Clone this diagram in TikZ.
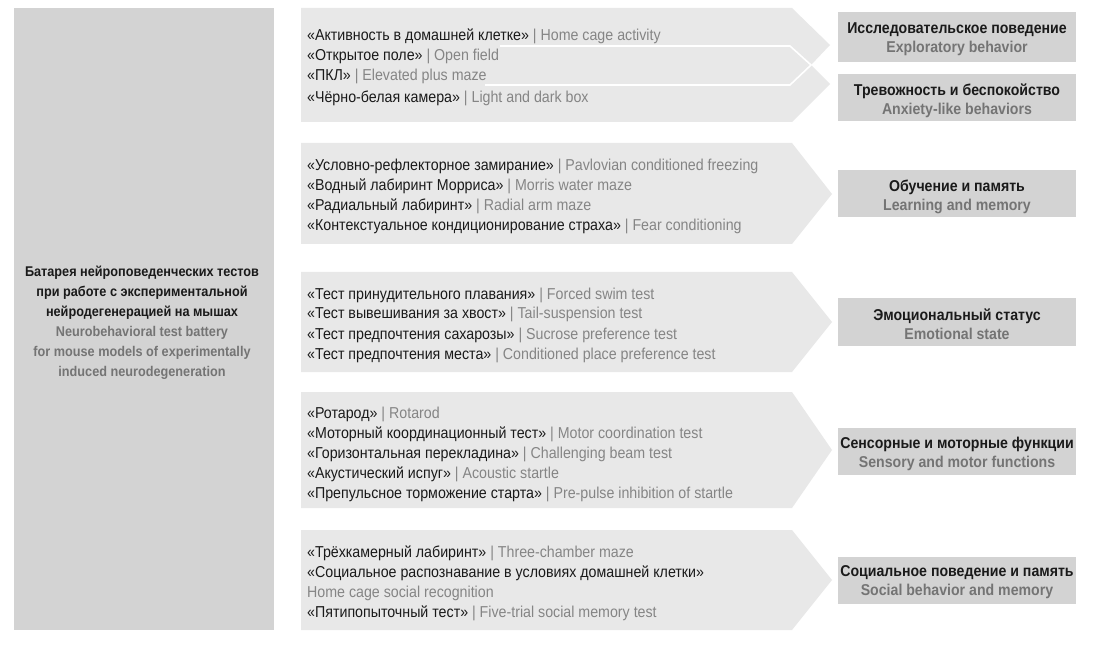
\documentclass[tikz,border=0pt]{standalone}
\usepackage{fontspec}
\setmainfont{Liberation Sans}[FakeStretch=0.9]
\definecolor{arrowc}{HTML}{E8E8E8}
\definecolor{boxc}{HTML}{D3D3D3}
\definecolor{ink}{HTML}{1A1A1A}
\definecolor{soft}{HTML}{747474}
\definecolor{softer}{HTML}{858585}
\newcommand\tst[2]{\textcolor{ink}{#1}\ \textcolor{softer}{|\ #2}}
\begin{document}
\begin{tikzpicture}[x=1pt,y=-1pt,
  lst/.style={anchor=base west, inner sep=0pt, font=\fontsize{15.8}{18}\selectfont},
  catbox/.style={fill=boxc, minimum width=238, minimum height=47, inner sep=0pt},
  cattext/.style={align=center, text=ink, inner sep=0pt, yshift=-2.5pt,
    font=\bfseries\fontsize{15.7}{19}\selectfont},
  chev/.style={fill=arrowc},
  sep/.style={draw=white, line width=1.6pt},
]
\useasboundingbox (0,0) rectangle (1093,647);
\fill[white] (0,0) rectangle (1093,647);

% left main box
\node[fill=boxc, minimum width=260, minimum height=622, inner sep=0pt] (main) at (144,319) {};
\node[align=center, inner sep=0pt, text=ink, font=\bfseries\fontsize{14.1}{20}\selectfont] (maintext) at (142,322.5)
  {Батарея нейроповеденческих тестов\\при работе с экспериментальной\\нейродегенерацией на мышах\\
   \color{soft}Neurobehavioral test battery\\\color{soft}for mouse models of experimentally\\\color{soft}induced neurodegeneration};

% block 1 (double chevron)
\fill[chev] (301,8) -- (792,8) -- (830,45) -- (811,65) -- (830,84) -- (792,122) -- (301,122) -- cycle;
\draw[sep] (500,46) -- (790,46) -- (811,65) -- (790,85) -- (485,85);
% other chevrons
\fill[chev] (301,143) -- (792,143) -- (832,194) -- (792,244) -- (301,244) -- cycle;
\fill[chev] (301,272) -- (792,272) -- (832,322) -- (792,372) -- (301,372) -- cycle;
\fill[chev] (301,392) -- (792,392) -- (832,450) -- (792,508) -- (301,508) -- cycle;
\fill[chev] (301,530) -- (792,530) -- (832,580) -- (792,630) -- (301,630) -- cycle;

% test lines
\node[lst] (a1) at (307,41) {\tst{«Активность в домашней клетке»}{Home cage activity}};
\node[lst] (a2) at (307,61) {\tst{«Открытое поле»}{Open field}};
\node[lst] (a3) at (307,81) {\tst{«ПКЛ»}{Elevated plus maze}};
\node[lst] (a4) at (307,103) {\tst{«Чёрно-белая камера»}{Light and dark box}};

\node[lst] (b1) at (307,171) {\tst{«Условно-рефлекторное замирание»}{Pavlovian conditioned freezing}};
\node[lst] (b2) at (307,191) {\tst{«Водный лабиринт Морриса»}{Morris water maze}};
\node[lst] (b3) at (307,211) {\tst{«Радиальный лабиринт»}{Radial arm maze}};
\node[lst] (b4) at (307,231) {\tst{«Контекстуальное кондиционирование страха»}{Fear conditioning}};

\node[lst] (c1) at (307,299) {\tst{«Тест принудительного плавания»}{Forced swim test}};
\node[lst] (c2) at (307,319) {\tst{«Тест вывешивания за хвост»}{Tail-suspension test}};
\node[lst] (c3) at (307,339) {\tst{«Тест предпочтения сахарозы»}{Sucrose preference test}};
\node[lst] (c4) at (307,359) {\tst{«Тест предпочтения места»}{Conditioned place preference test}};

\node[lst] (d1) at (307,418) {\tst{«Ротарод»}{Rotarod}};
\node[lst] (d2) at (307,438) {\tst{«Моторный координационный тест»}{Motor coordination test}};
\node[lst] (d3) at (307,458) {\tst{«Горизонтальная перекладина»}{Challenging beam test}};
\node[lst] (d4) at (307,478) {\tst{«Акустический испуг»}{Acoustic startle}};
\node[lst] (d5) at (307,498) {\tst{«Препульсное торможение старта»}{Pre-pulse inhibition of startle}};

\node[lst] (e1) at (307,557) {\tst{«Трёхкамерный лабиринт»}{Three-chamber maze}};
\node[lst, text=ink] (e2) at (307,577) {«Социальное распознавание в условиях домашней клетки»};
\node[lst, text=softer] (e3) at (307,597) {Home cage social recognition};
\node[lst] (e4) at (307,617) {\tst{«Пятипопыточный тест»}{Five-trial social memory test}};

% category boxes
\node[catbox, minimum height=50] (k1) at (957,37) {};
\node[cattext] (k1t) at (k1.center) {Исследовательское поведение\\\color{soft}Exploratory behavior};
\node[catbox] (k2) at (957,98) {};
\node[cattext] (k2t) at (k2.center) {Тревожность и беспокойство\\\color{soft}Anxiety-like behaviors};
\node[catbox] (k3) at (957,194) {};
\node[cattext] (k3t) at (k3.center) {Обучение и память\\\color{soft}Learning and memory};
\node[catbox] (k4) at (957,322) {};
\node[cattext] (k4t) at (k4.center) {Эмоциональный статус\\\color{soft}Emotional state};
\node[catbox] (k5) at (957,451) {};
\node[cattext] (k5t) at (k5.center) {Сенсорные и моторные функции\\\color{soft}Sensory and motor functions};
\node[catbox] (k6) at (957,580) {};
\node[cattext] (k6t) at (k6.center) {Социальное поведение и память\\\color{soft}Social behavior and memory};
\end{tikzpicture}
\end{document}
